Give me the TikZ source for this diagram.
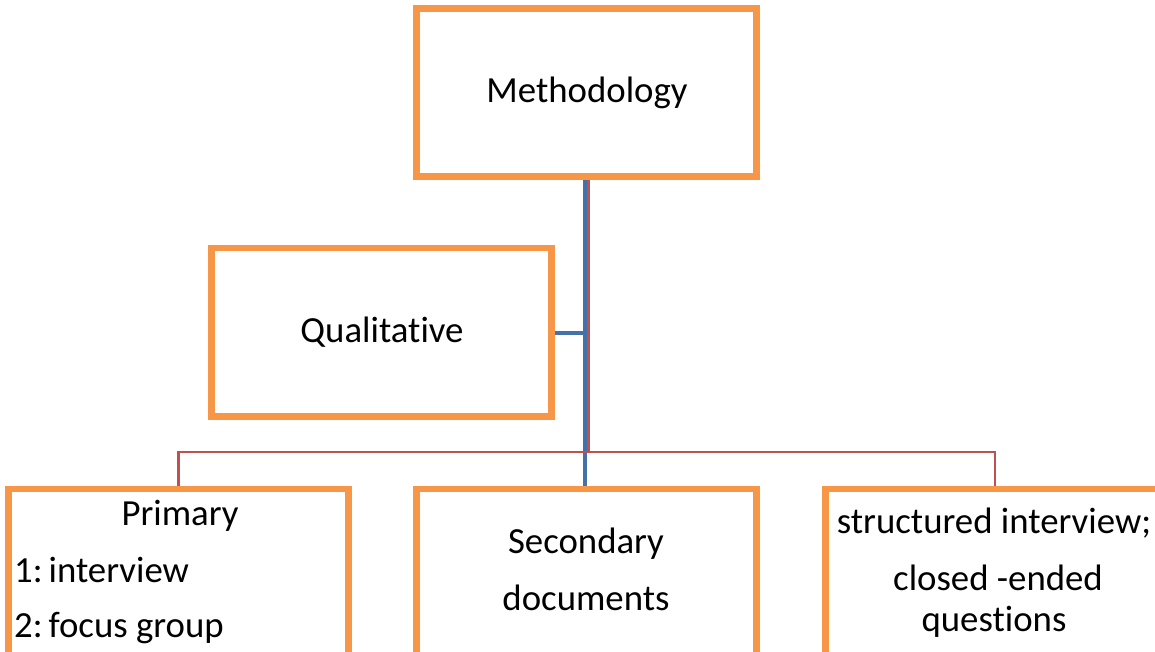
\documentclass[tikz,border=0pt]{standalone}
\usepackage{fontspec}
\setmainfont[Ligatures={NoCommon}]{Carlito}
\definecolor{boxorange}{HTML}{F79646}
\definecolor{lineblue}{HTML}{4372AA}
\definecolor{linered}{HTML}{C0504D}
\begin{document}
\begin{tikzpicture}[x=1pt,y=-1pt,
  box/.style={draw=boxorange, line width=4.5pt, fill=white, rectangle,
    minimum width=337.5pt, minimum height=166pt, inner sep=0pt},
  txt/.style={anchor=base, inner sep=0pt, font=\fontsize{36.8}{41}\selectfont},
  blueline/.style={draw=lineblue, line width=4pt},
  redline/.style={draw=linered, line width=2.5pt}]
\useasboundingbox (0,0) rectangle (1155,652);
\clip (0,0) rectangle (1155,652);
% boxes
\node[box] (meth) at (586.7,92.5) {};
\node[box] (qual) at (381.7,332) {};
\node[box] (prim) at (178.7,573) {};
\node[box] (sec) at (586.7,573) {};
\node[box] (struct) at (995,573) {};
% connectors
\coordinate (bus) at (588.5,452);
\coordinate (qj) at (585,333);
\draw[blueline] ([xshift=-1.7pt]meth.south) -- ([xshift=-1.7pt]sec.north);
\draw[blueline] (qual.east |- qj) -- (qj);
\draw[redline] ([xshift=1.8pt]meth.south) -- (bus);
\draw[redline] (prim.north) |- (bus) -| (struct.north);
% redraw box borders over connector ends
\foreach \n in {meth,qual,prim,sec,struct}{
  \draw[boxorange, line width=4.5pt] (\n.north west) rectangle (\n.south east);
}
% texts
\node[txt] (tmeth) at (587,103) {Methodology};
\node[txt] (tqual) at (382,342) {Qualitative};
\node[txt] (tprim) at (180,525) {Primary};
\node[txt, anchor=base west] (tp1) at (14,582) {1:\hspace{0.16em}interview};
\node[txt, anchor=base west] (tp2) at (14,637) {2:\hspace{0.16em}focus group};
\node[txt] (ts1) at (586,553) {Secondary};
\node[txt] (ts2) at (586,610) {documents};
\node[txt] (tt1) at (994,533) {structured interview;};
\node[txt] (tt2) at (998,590) {closed -ended};
\node[txt] (tt3) at (994,631) {questions};
\end{tikzpicture}
\end{document}
